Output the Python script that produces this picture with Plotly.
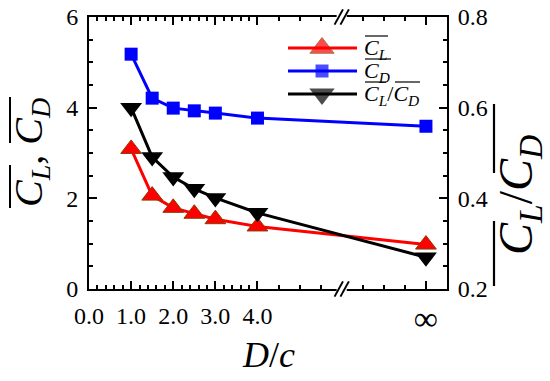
import plotly.graph_objects as go

# ---- data (x position 8.0 stands for D/c = infinity on the broken axis) ----
D_POS = [1.0, 1.5, 2.0, 2.5, 3.0, 4.0, 8.0]
CL = [3.09, 2.06, 1.79, 1.66, 1.54, 1.38, 0.98]
CD = [5.18, 4.21, 3.99, 3.93, 3.88, 3.77, 3.59]
CL_CD = [0.600, 0.491, 0.447, 0.421, 0.401, 0.368, 0.270]

X_TICKVALS = [0, 1, 2, 3, 4, 8]
X_TICKTEXT = ["0.0", "1.0", "2.0", "3.0", "4.0",
              '<span style="font-size:34px;baseline-shift:-6px">∞</span>']
X_MINOR = [round(0.2 * i, 1) for i in range(1, 20) if i % 5 != 0] + [4.5, 5.0, 5.5, 6.5, 7.0, 7.5]
Y1_TICKS = [0, 2, 4, 6]
Y2_TICKS = [0.2, 0.4, 0.6, 0.8]
Y2_TEXT = ["0.2", "0.4", "0.6", "0.8"]
BREAK_X = 6.0

SERIF = "Liberation Serif"
W, H = 550, 381
# plot area in page pixels: left 89, right 447, top 17, bottom 289
ML, MT = 89, 17
MR, MB = W - 447, H - 289
PW, PH = W - ML - MR, H - MT - MB


def px(x):  # page pixel -> paper x
    return (x - ML) / PW


def py(y):  # page pixel -> paper y
    return (H - MB - y) / PH


CL_TXT = '<i>C</i><sub><i>L</i></sub>'
CD_TXT = '<i>C</i><sub><i>D</i></sub>'

SERIES = [
    dict(name="CL", y=CL, axis="y", color="#ff0000", symbol="triangle-up", size=18,
         mline=dict(color="#8b3a00", width=1)),
    dict(name="CD", y=CD, axis="y", color="#0000ff", symbol="square", size=13,
         mline=dict(width=0)),
    dict(name="CL/CD", y=CL_CD, axis="y2", color="#000000", symbol="triangle-down", size=19,
         mline=dict(width=0)),
]

fig = go.Figure()
for s in SERIES:
    fig.add_trace(go.Scatter(
        x=D_POS, y=s["y"], name=s["name"], mode="lines+markers", yaxis=s["axis"],
        line=dict(color=s["color"], width=3), showlegend=False,
        marker=dict(symbol=s["symbol"], size=s["size"], color=s["color"], line=s["mline"]),
    ))

# ---- hand-made legend (samples on an invisible overlay axis in paper units) ----
LEG_ROWS = [48, 71, 94]
LEG_SIZES = [21, 13, 22]
for s, ry, ms in zip(SERIES, LEG_ROWS, LEG_SIZES):
    fig.add_trace(go.Scatter(
        x=[px(288), px(322), px(357)], y=[py(ry)] * 3, xaxis="x2", yaxis="y3",
        mode="lines+markers", showlegend=False, hoverinfo="skip",
        line=dict(color=s["color"], width=3),
        marker=dict(symbol=s["symbol"], size=[0, ms, 0], color=s["color"], line=s["mline"]),
    ))

axis_common = dict(
    showline=True, linecolor="black", linewidth=2,
    ticks="inside", tickcolor="black", tickwidth=2, ticklen=8,
    showgrid=False, zeroline=False, ticklabeloverflow="allow",
    tickfont=dict(family=SERIF, size=24, color="black"),
)

fig.update_layout(
    width=W, height=H,
    margin=dict(l=ML, r=MR, t=MT, b=MB, autoexpand=False),
    paper_bgcolor="white", plot_bgcolor="white",
    showlegend=False,
    xaxis=dict(
        range=[0, 8.5], tickmode="array", tickvals=X_TICKVALS, ticktext=X_TICKTEXT,
        mirror="ticks", ticklabelstandoff=4,
        minor=dict(tickmode="array", tickvals=X_MINOR, ticks="inside", ticklen=4,
                   tickwidth=2, tickcolor="black", showgrid=False),
        **axis_common,
    ),
    yaxis=dict(
        range=[0, 6], tickmode="array", tickvals=Y1_TICKS, mirror=True,
        ticklabelstandoff=4,
        minor=dict(dtick=0.5, ticks="inside", ticklen=4, tickwidth=2,
                   tickcolor="black", showgrid=False),
        **axis_common,
    ),
    yaxis2=dict(
        range=[0.2, 0.8], overlaying="y", side="right", tickmode="array",
        tickvals=Y2_TICKS, ticktext=Y2_TEXT, ticklabelstandoff=4,
        minor=dict(dtick=0.05, ticks="inside", ticklen=4, tickwidth=2,
                   tickcolor="black", showgrid=False),
        **axis_common,
    ),
    xaxis2=dict(overlaying="x", range=[0, 1], visible=False, fixedrange=True),
    yaxis3=dict(overlaying="y", range=[0, 1], visible=False, fixedrange=True),
    font=dict(family=SERIF, color="black"),
)


def text(t, x, y, size, angle=0, xanchor="center"):
    fig.add_annotation(text=t, xref="paper", yref="paper", x=px(x), y=py(y),
                       showarrow=False, textangle=angle, xanchor=xanchor, yanchor="middle",
                       font=dict(family=SERIF, size=size, color="black"))


def bar(x0, y0, x1, y1, w=1.5):
    fig.add_shape(type="line", xref="paper", yref="paper",
                  x0=px(x0), y0=py(y0), x1=px(x1), y1=py(y1),
                  line=dict(color="black", width=w), layer="above")


# legend texts with overlines
LF = 22
text(CL_TXT, 362, LEG_ROWS[0] + 1, LF, xanchor="left")
bar(365, LEG_ROWS[0] - 12, 388, LEG_ROWS[0] - 12, 1.2)
text(CD_TXT, 362, LEG_ROWS[1] + 1, LF, xanchor="left")
bar(365, LEG_ROWS[1] - 12, 391, LEG_ROWS[1] - 12, 1.2)
text(CL_TXT + "/" + CD_TXT, 362, LEG_ROWS[2] + 1, LF, xanchor="left")
bar(365, LEG_ROWS[2] - 12, 386, LEG_ROWS[2] - 12, 1.2)
bar(395, LEG_ROWS[2] - 12, 420, LEG_ROWS[2] - 12, 1.2)

# x title
text("<i>D</i>/<i>c</i>", 268, 355, 36)

# left title (rotated) with overlines
text(CL_TXT + ", " + CD_TXT, 31, 153, 40, angle=-90)
bar(10, 165, 10, 208, 2)
bar(10, 97, 10, 143, 2)

# right title (rotated) with overlines
text(CL_TXT + "/" + CD_TXT, 519, 195, 48, angle=-90)
bar(494, 221, 494, 286, 2.2)
bar(494, 104, 494, 173, 2.2)

# axis break marks (bottom and top)
for yb in (0.0, 1.0):
    fig.add_shape(type="rect", xref="x", yref="paper",
                  x0=BREAK_X - 0.12, x1=BREAK_X + 0.12, y0=yb - 0.015, y1=yb + 0.015,
                  fillcolor="white", line=dict(width=0), layer="above")
    for dx in (-0.07, 0.07):
        fig.add_shape(type="line", xref="x", yref="paper",
                      x0=BREAK_X + dx - 0.1, x1=BREAK_X + dx + 0.1,
                      y0=yb - 0.028, y1=yb + 0.028,
                      line=dict(color="black", width=2), layer="above")

fig.write_html("out.html", post_script="document.body.style.margin='0';",
               config={"displayModeBar": False})
